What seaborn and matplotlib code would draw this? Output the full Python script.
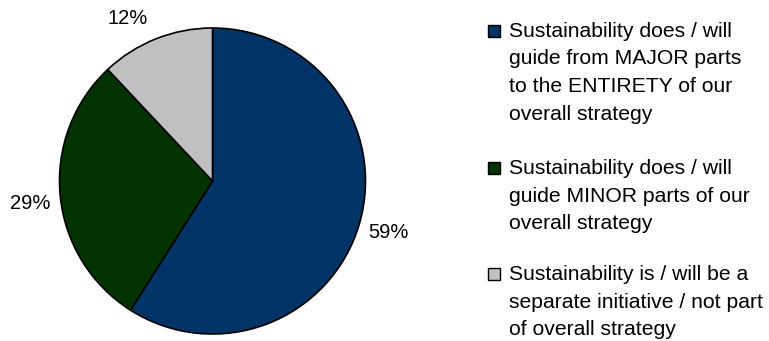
import matplotlib
matplotlib.use("Agg")
import matplotlib.pyplot as plt
import matplotlib.patches as mpatches
import seaborn as sns
import numpy as np

sns.set_theme(style="white")
plt.rcParams['font.family'] = ['Liberation Sans', 'DejaVu Sans']

categories = [
    "Sustainability does / will\nguide from MAJOR parts\nto the ENTIRETY of our\noverall strategy",
    "Sustainability does / will\nguide MINOR parts of our\noverall strategy",
    "Sustainability is / will be a\nseparate initiative / not part\nof overall strategy",
]
values = [59, 29, 12]
pct_labels = ["59%", "29%", "12%"]
colors = ["#003366", "#003300", "#C0C0C0"]

W, H = 769, 341
fig = plt.figure(figsize=(W / 100, H / 100), dpi=100)
fig.patch.set_facecolor("white")

cx, cy, r = 212.5, 181, 153
ax = fig.add_axes([(cx - r) / W, (H - cy - r) / H, 2 * r / W, 2 * r / H])
wedges, texts = ax.pie(
    values, colors=colors, startangle=90, counterclock=False,
    labels=pct_labels, labeldistance=1.2,
    wedgeprops=dict(edgecolor="black", linewidth=1.2),
    textprops=dict(fontsize=14.5, color="black"),
)
for t in texts:
    t.set_ha("center")
    t.set_va("center")
# Nudge labels as in the reference (best-fit placement)
w = wedges[2]
ang = np.deg2rad((w.theta1 + w.theta2) / 2 + 6)
texts[2].set_position((1.2 * np.cos(ang), 1.2 * np.sin(ang)))
w = wedges[1]
ang = np.deg2rad((w.theta1 + w.theta2) / 2 + 1.5)
texts[1].set_position((1.2 * np.cos(ang), 1.2 * np.sin(ang)))
ax.set_xlim(-1, 1)
ax.set_ylim(-1, 1)
ax.set_aspect("equal")
ax.axis("off")

# Legend drawn manually to match reference layout
baselines = [37, 174, 280]
line_step = 27.5
for lab, col, b in zip(categories, colors, baselines):
    for i, line in enumerate(lab.split("\n")):
        fig.text(509 / W, 1 - (b + i * line_step) / H, line, ha="left",
                 va="baseline", fontsize=15.2, color="black")
    fig.patches.append(mpatches.Rectangle(
        (488 / W, 1 - b / H), 12 / W, 12 / H, transform=fig.transFigure,
        facecolor=col, edgecolor="black", linewidth=1.0))

fig.savefig("out.png", dpi=100)
